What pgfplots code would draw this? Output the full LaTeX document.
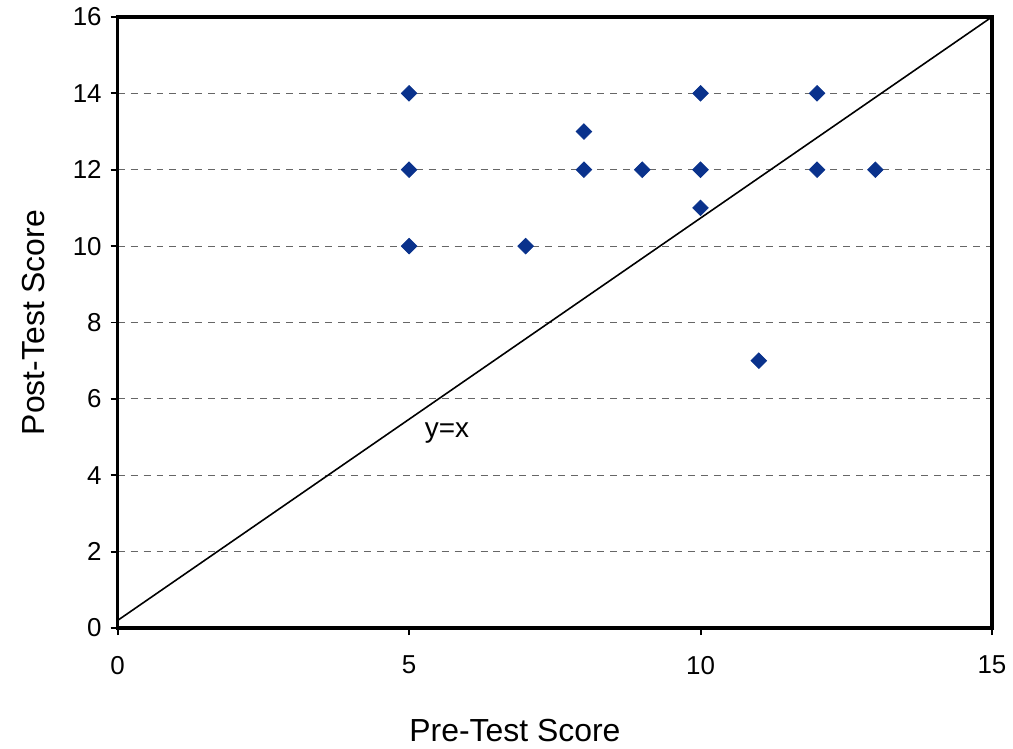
\documentclass[border=0pt]{standalone}
\usepackage{pgfplots}
\pgfplotsset{compat=1.18}
\usepackage{fontspec}
\setmainfont{Liberation Sans}
\definecolor{mk}{RGB}{10,50,140}
\begin{document}
\begin{tikzpicture}
\begin{axis}[
  scale only axis,
  width=438.5pt, height=306.5pt,
  xmin=0, xmax=15, ymin=0, ymax=16,
  xtick={0,5,10,15}, ytick={0,2,...,16},
  tick align=outside, tick pos=left,
  major tick length=3.5pt,
  axis line style={line width=1.8pt},
  every tick/.style={line width=1pt, black},
  ymajorgrids,
  grid style={dashed, gray!80!black, line width=0.5pt, dash pattern=on 3.5pt off 3pt},
  /pgf/number format/assume math mode=true,
  tick label style={font=\fontsize{13}{15}\selectfont},
  xticklabel style={yshift=-7pt},
  yticklabel style={xshift=-1pt},
  label style={font=\fontsize{16}{18}\selectfont},
  xlabel={Pre-Test Score},
  ylabel={Post-Test Score},
  xlabel style={at={(axis description cs:0.5,0)}, anchor=center, yshift=-51.5pt, xshift=-20pt},
  ylabel style={yshift=7.3pt},
  clip=false,
]
\addplot[black, line width=0.8pt] coordinates {(0,0.2) (15,16)};
\addplot[only marks, mark=square*, mark size=2.75pt, mark options={rotate=45, fill=mk, draw=mk}] coordinates {
(5,14) (5,12) (5,10) (7,10) (8,13) (8,12) (9,12) (10,14) (10,12) (10,11) (12,14) (12,12) (13,12) (11,7)
};
\node[font=\fontsize{14}{16}\selectfont] at (axis cs:5.65,5.1) {y=x};
\end{axis}
\path (-59pt,-58pt) rectangle (447.5pt,315pt);
\end{tikzpicture}
\end{document}
